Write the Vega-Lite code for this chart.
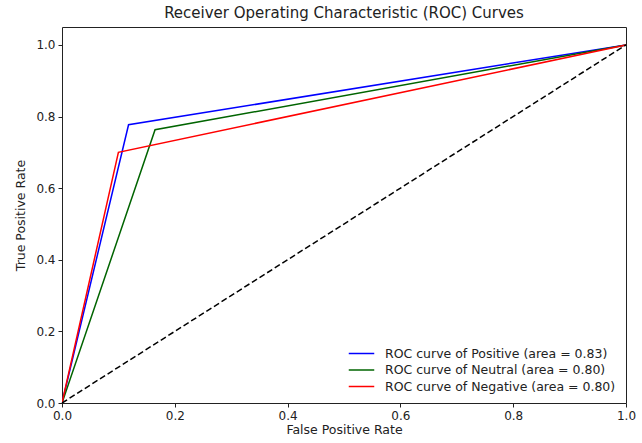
{
  "$schema": "https://vega.github.io/schema/vega-lite/v6.json",
  "width": 564,
  "height": 376,
  "autosize": {"type": "none"},
  "padding": {"left": 62, "top": 27, "right": 16, "bottom": 40},
  "background": "white",
  "title": {"text": "Receiver Operating Characteristic (ROC) Curves", "font": "DejaVu Sans", "fontSize": 15, "fontWeight": "normal", "color": "#222", "offset": 6},
  "config": {
    "view": {"stroke": "#222", "strokeWidth": 1},
    "axis": {"grid": false, "domain": false, "labelFlush": false, "tickColor": "#222", "tickSize": 4, "labelPadding": 3, "labelFont": "DejaVu Sans", "labelFontSize": 12, "labelColor": "#222", "titleFont": "DejaVu Sans", "titleFontSize": 12.5, "titleFontWeight": "normal", "titleColor": "#222"}
  },
  "layer": [
    {
      "data": {"values": [
        {"series": "ROC curve of Positive (area = 0.83)", "fpr": 0, "tpr": 0, "o": 0},
        {"series": "ROC curve of Positive (area = 0.83)", "fpr": 0.118, "tpr": 0.777, "o": 1},
        {"series": "ROC curve of Positive (area = 0.83)", "fpr": 1, "tpr": 1, "o": 2},
        {"series": "ROC curve of Neutral (area = 0.80)", "fpr": 0, "tpr": 0, "o": 0},
        {"series": "ROC curve of Neutral (area = 0.80)", "fpr": 0.165, "tpr": 0.763, "o": 1},
        {"series": "ROC curve of Neutral (area = 0.80)", "fpr": 1, "tpr": 1, "o": 2},
        {"series": "ROC curve of Negative (area = 0.80)", "fpr": 0, "tpr": 0, "o": 0},
        {"series": "ROC curve of Negative (area = 0.80)", "fpr": 0.1, "tpr": 0.70, "o": 1},
        {"series": "ROC curve of Negative (area = 0.80)", "fpr": 1, "tpr": 1, "o": 2}
      ]},
      "mark": {"type": "line", "strokeWidth": 1.5, "clip": true},
      "encoding": {
        "x": {"field": "fpr", "type": "quantitative", "scale": {"domain": [0, 1], "nice": false, "zero": false}, "axis": {"values": [0, 0.2, 0.4, 0.6, 0.8, 1.0], "format": ".1f", "title": "False Positive Rate", "titlePadding": 2}},
        "y": {"field": "tpr", "type": "quantitative", "scale": {"domain": [0, 1.05], "nice": false, "zero": false}, "axis": {"values": [0, 0.2, 0.4, 0.6, 0.8, 1.0], "format": ".1f", "title": "True Positive Rate", "titlePadding": 8}},
        "order": {"field": "o"},
        "color": {"field": "series", "type": "nominal",
          "scale": {"domain": ["ROC curve of Positive (area = 0.83)", "ROC curve of Neutral (area = 0.80)", "ROC curve of Negative (area = 0.80)"], "range": ["#0000ff", "#006400", "#ff0000"]},
          "legend": {"title": null, "orient": "bottom-right", "offset": 10, "symbolType": "M-1.5,0H1.5", "symbolStrokeWidth": 1.5, "symbolSize": 289, "labelFont": "DejaVu Sans", "labelFontSize": 12.5, "labelColor": "#222", "labelLimit": 0, "rowPadding": 0.5, "labelOffset": 14}
        }
      }
    },
    {
      "data": {"values": [{"fpr": 0, "tpr": 0}, {"fpr": 1, "tpr": 1}]},
      "mark": {"type": "line", "color": "black", "strokeWidth": 1.5, "strokeDash": [6, 3]},
      "encoding": {
        "x": {"field": "fpr", "type": "quantitative"},
        "y": {"field": "tpr", "type": "quantitative"}
      }
    }
  ]
}
